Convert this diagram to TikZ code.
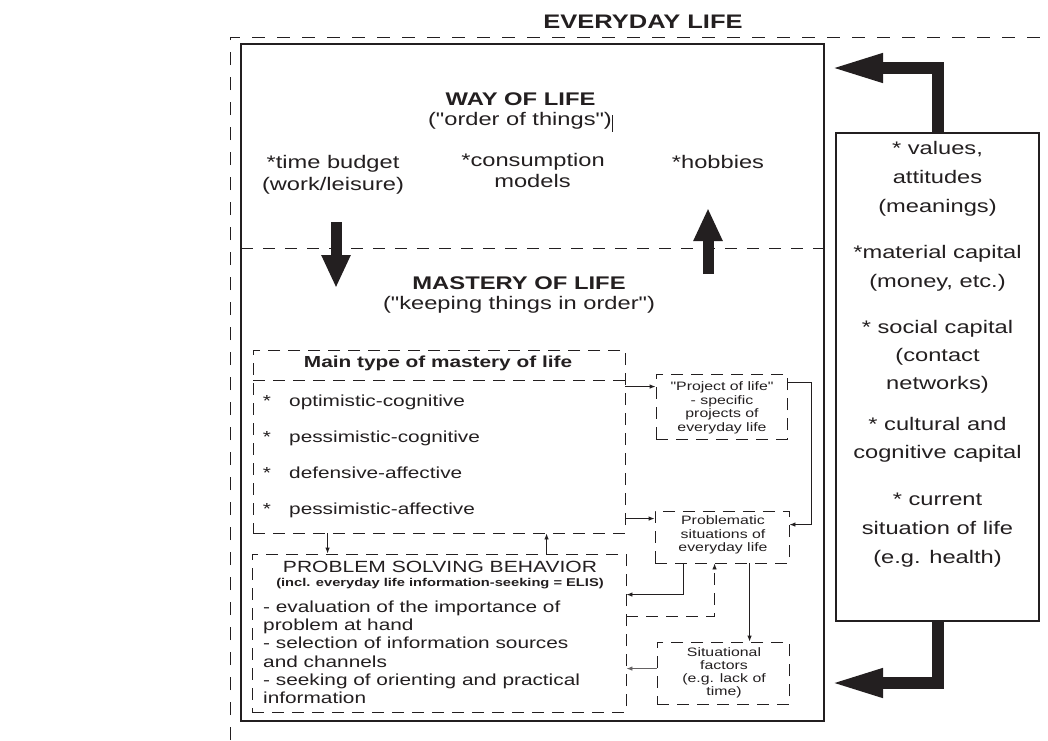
\documentclass[tikz,border=0pt]{standalone}
\usepackage{fontspec}
\setmainfont[FakeStretch=1.3,Ligatures=TeXOff]{Liberation Sans}
\usetikzlibrary{arrows.meta,calc}
\definecolor{ink}{RGB}{35,31,32}
\begin{document}
\begin{tikzpicture}[x=1pt,y=-1pt,
  every node/.style={inner sep=0pt,text=ink},
  tbig/.style={font=\fontsize{18.2}{21}\selectfont},
  ttop/.style={font=\fontsize{18.2}{21}\selectfont},
  htop/.style={font=\bfseries\fontsize{18.3}{21}\selectfont},
  htitle/.style={font=\bfseries\fontsize{19.6}{23}\selectfont},
  tmid/.style={font=\fontsize{16}{19}\selectfont},
  hmid/.style={font=\bfseries\fontsize{16}{19}\selectfont},
  tsml/.style={font=\fontsize{12.2}{14}\selectfont},
  tsub/.style={font=\bfseries\fontsize{11.3}{13}\selectfont},
  dbox/.style={draw=ink,line width=0.9pt,dash pattern=on 12pt off 8pt},
  dline/.style={draw=ink,line width=0.9pt,dash pattern=on 12pt off 10pt},
  conn/.style={draw=ink,line width=0.9pt,-{Latex[length=6pt,width=4.5pt]}},
  bigarrow/.style={draw=ink,line width=12pt,line join=miter,-{Triangle[length=54pt,width=26pt]}},
  flowarrow/.style={draw=ink,line width=11pt,-{Triangle[length=33pt,width=27pt]}}
]
\path[fill=white,use as bounding box] (0,0) rectangle (1048,740);

% outer everyday life frame (partly visible)
\draw[ink,line width=0.9pt,dash pattern=on 13pt off 12pt] (230,740) -- (230,37) -- (1047,37);
\node[htitle,anchor=base] (evlife) at (643,28) {EVERYDAY LIFE};

% main solid box
\node[draw=ink,line width=1.1pt,minimum width=583pt,minimum height=677pt] (life) at (532.5,382.5) {};
\draw[dline] (241,248) -- (824,248);

% way of life
\node[htop,anchor=base] (wol) at (520.5,105.6) {WAY OF LIFE};
\node[ttop,anchor=base] (oot) at (520,125.8) {("order of things")};
\draw[ink,line width=1pt] (612.7,115) -- (612.7,132);
\node[ttop,anchor=base] (tb1) at (333,168) {*time budget};
\node[ttop,anchor=base] (tb2) at (333,190) {(work/leisure)};
\node[ttop,anchor=base] (cm1) at (533,166.9) {*consumption};
\node[ttop,anchor=base] (cm2) at (532.5,187.9) {models};
\node[ttop,anchor=base] (hob) at (718,168.9) {*hobbies};

% thick vertical arrows
\coordinate (dn1) at (336,222);
\coordinate (dn2) at (336,288);
\coordinate (up1) at (708,274);
\coordinate (up2) at (708,208);
\draw[flowarrow] (dn1) -- (dn2);
\draw[flowarrow] (up1) -- (up2);

% mastery of life
\node[htop,anchor=base] (mol) at (519,289.5) {MASTERY OF LIFE};
\node[ttop,anchor=base] (kto) at (519,309.9) {("keeping things in order")};

% main type of mastery of life
\node[dbox,minimum width=372pt,minimum height=183pt] (mtype) at (439,441.5) {};
\draw[dbox] (253,380) -- (625,380);
\node[hmid,anchor=base] (mth) at (438,367.3) {Main type of mastery of life};
\foreach \y/\t [count=\i] in {406.4/optimistic-cognitive,442.4/pessimistic-cognitive,478.4/defensive-affective,514.4/pessimistic-affective}{
  \node[tmid,anchor=base] (mb\i) at (267,\y) {*};
  \node[tmid,anchor=base west] (mi\i) at (289,\y) {\t};
}

% problem solving behavior
\node[dbox,minimum width=374pt,minimum height=158pt] (psb) at (439,633) {};
\node[tmid,font=\fontsize{16.2}{19}\selectfont,anchor=base] (psbt) at (440,572.8) {PROBLEM SOLVING BEHAVIOR};
\node[tsub,anchor=base] (psbs) at (440,586.3) {(incl. everyday life information-seeking = ELIS)};
\foreach \y/\t [count=\i] in {612.4/{- evaluation of the importance of},630.6/{problem at hand},648.8/{- selection of information sources},667/{and channels},685.2/{- seeking of orienting and practical},703.4/{information}}{
  \node[tmid,anchor=base west] (pl\i) at (263,\y) {\t};
}

% small boxes on the right
\node[dbox,minimum width=131pt,minimum height=65pt] (proj) at (721.5,406.5) {};
\foreach \y/\t [count=\i] in {390.3/{"Project of life"},404/{- specific},417.6/{projects of},431.3/{everyday life}}{
  \node[tsml,anchor=base] (pj\i) at (722,\y) {\t};
}
\node[dbox,minimum width=134pt,minimum height=52pt] (prob) at (722,537) {};
\foreach \y/\t [count=\i] in {524.3/{Problematic},538.3/{situations of},551.6/{everyday life}}{
  \node[tsml,anchor=base] (pb\i) at (723,\y) {\t};
}
\node[dbox,minimum width=132pt,minimum height=62pt] (situ) at (723,673) {};
\foreach \y/\t [count=\i] in {656.3/{Situational},669.3/{factors},682.3/{(e.g. lack of},695.3/{time)}}{
  \node[tsml,anchor=base] (st\i) at (724,\y) {\t};
}

% connectors between inner boxes
\coordinate (a1) at ($(proj.north west)+(0,13)$);
\coordinate (a2) at ($(prob.north west)+(0,8)$);
\draw[conn] (mtype.east |- a1) -- (a1);
\draw[conn] (mtype.east |- a2) -- (a2);
\coordinate (b1) at ($(proj.north east)+(0,9)$);
\coordinate (b2) at ($(prob.north east)+(0,14)$);
\draw[conn] (b1) -- ++(24,0) |- (b2);
\coordinate (c1) at ($(prob.south west)+(29,0)$);
\coordinate (c2) at ($(psb.north east)+(0,41)$);
\draw[conn] (c1) |- (c2);
\coordinate (d1) at ($(psb.north east)+(0,63)$);
\coordinate (d2) at ($(prob.south west)+(60,0)$);
\draw[conn,dash pattern=on 12pt off 8pt] (d1) -| (d2);
\coordinate (e1) at ($(prob.south west)+(95,0)$);
\draw[conn] (e1) -- (e1 |- situ.north);
\coordinate (f1) at ($(situ.north west)+(0,27)$);
\draw[conn,draw=ink!70] (f1) -- (psb.east |- f1);
\coordinate (g1) at ($(mtype.south west)+(75,0)$);
\draw[conn] (g1) -- (g1 |- psb.north);
\coordinate (h1) at ($(psb.north west)+(295,0)$);
\draw[conn] (h1) -- (h1 |- mtype.south);

% right box of resources
\node[draw=ink,line width=1.1pt,minimum width=203pt,minimum height=488pt] (rbox) at (937.5,377) {};
\foreach \y/\t [count=\i] in {154/{* values,},183.5/{attitudes},212/{(meanings)},258/{*material capital},287.5/{(money, etc.)},333/{* social capital},361/{(contact},389/{networks)},430/{* cultural and},458/{cognitive capital},505/{* current},534/{situation of life},563/{(e.g. health)}}{
  \node[tbig,anchor=base] (r\i) at (937.5,\y) {\t};
}
\coordinate (ta) at (829,68);
\coordinate (ba) at (829,683);
\draw[bigarrow] (rbox.north) |- (ta);
\draw[bigarrow] (rbox.south) |- (ba);
\end{tikzpicture}
\end{document}
